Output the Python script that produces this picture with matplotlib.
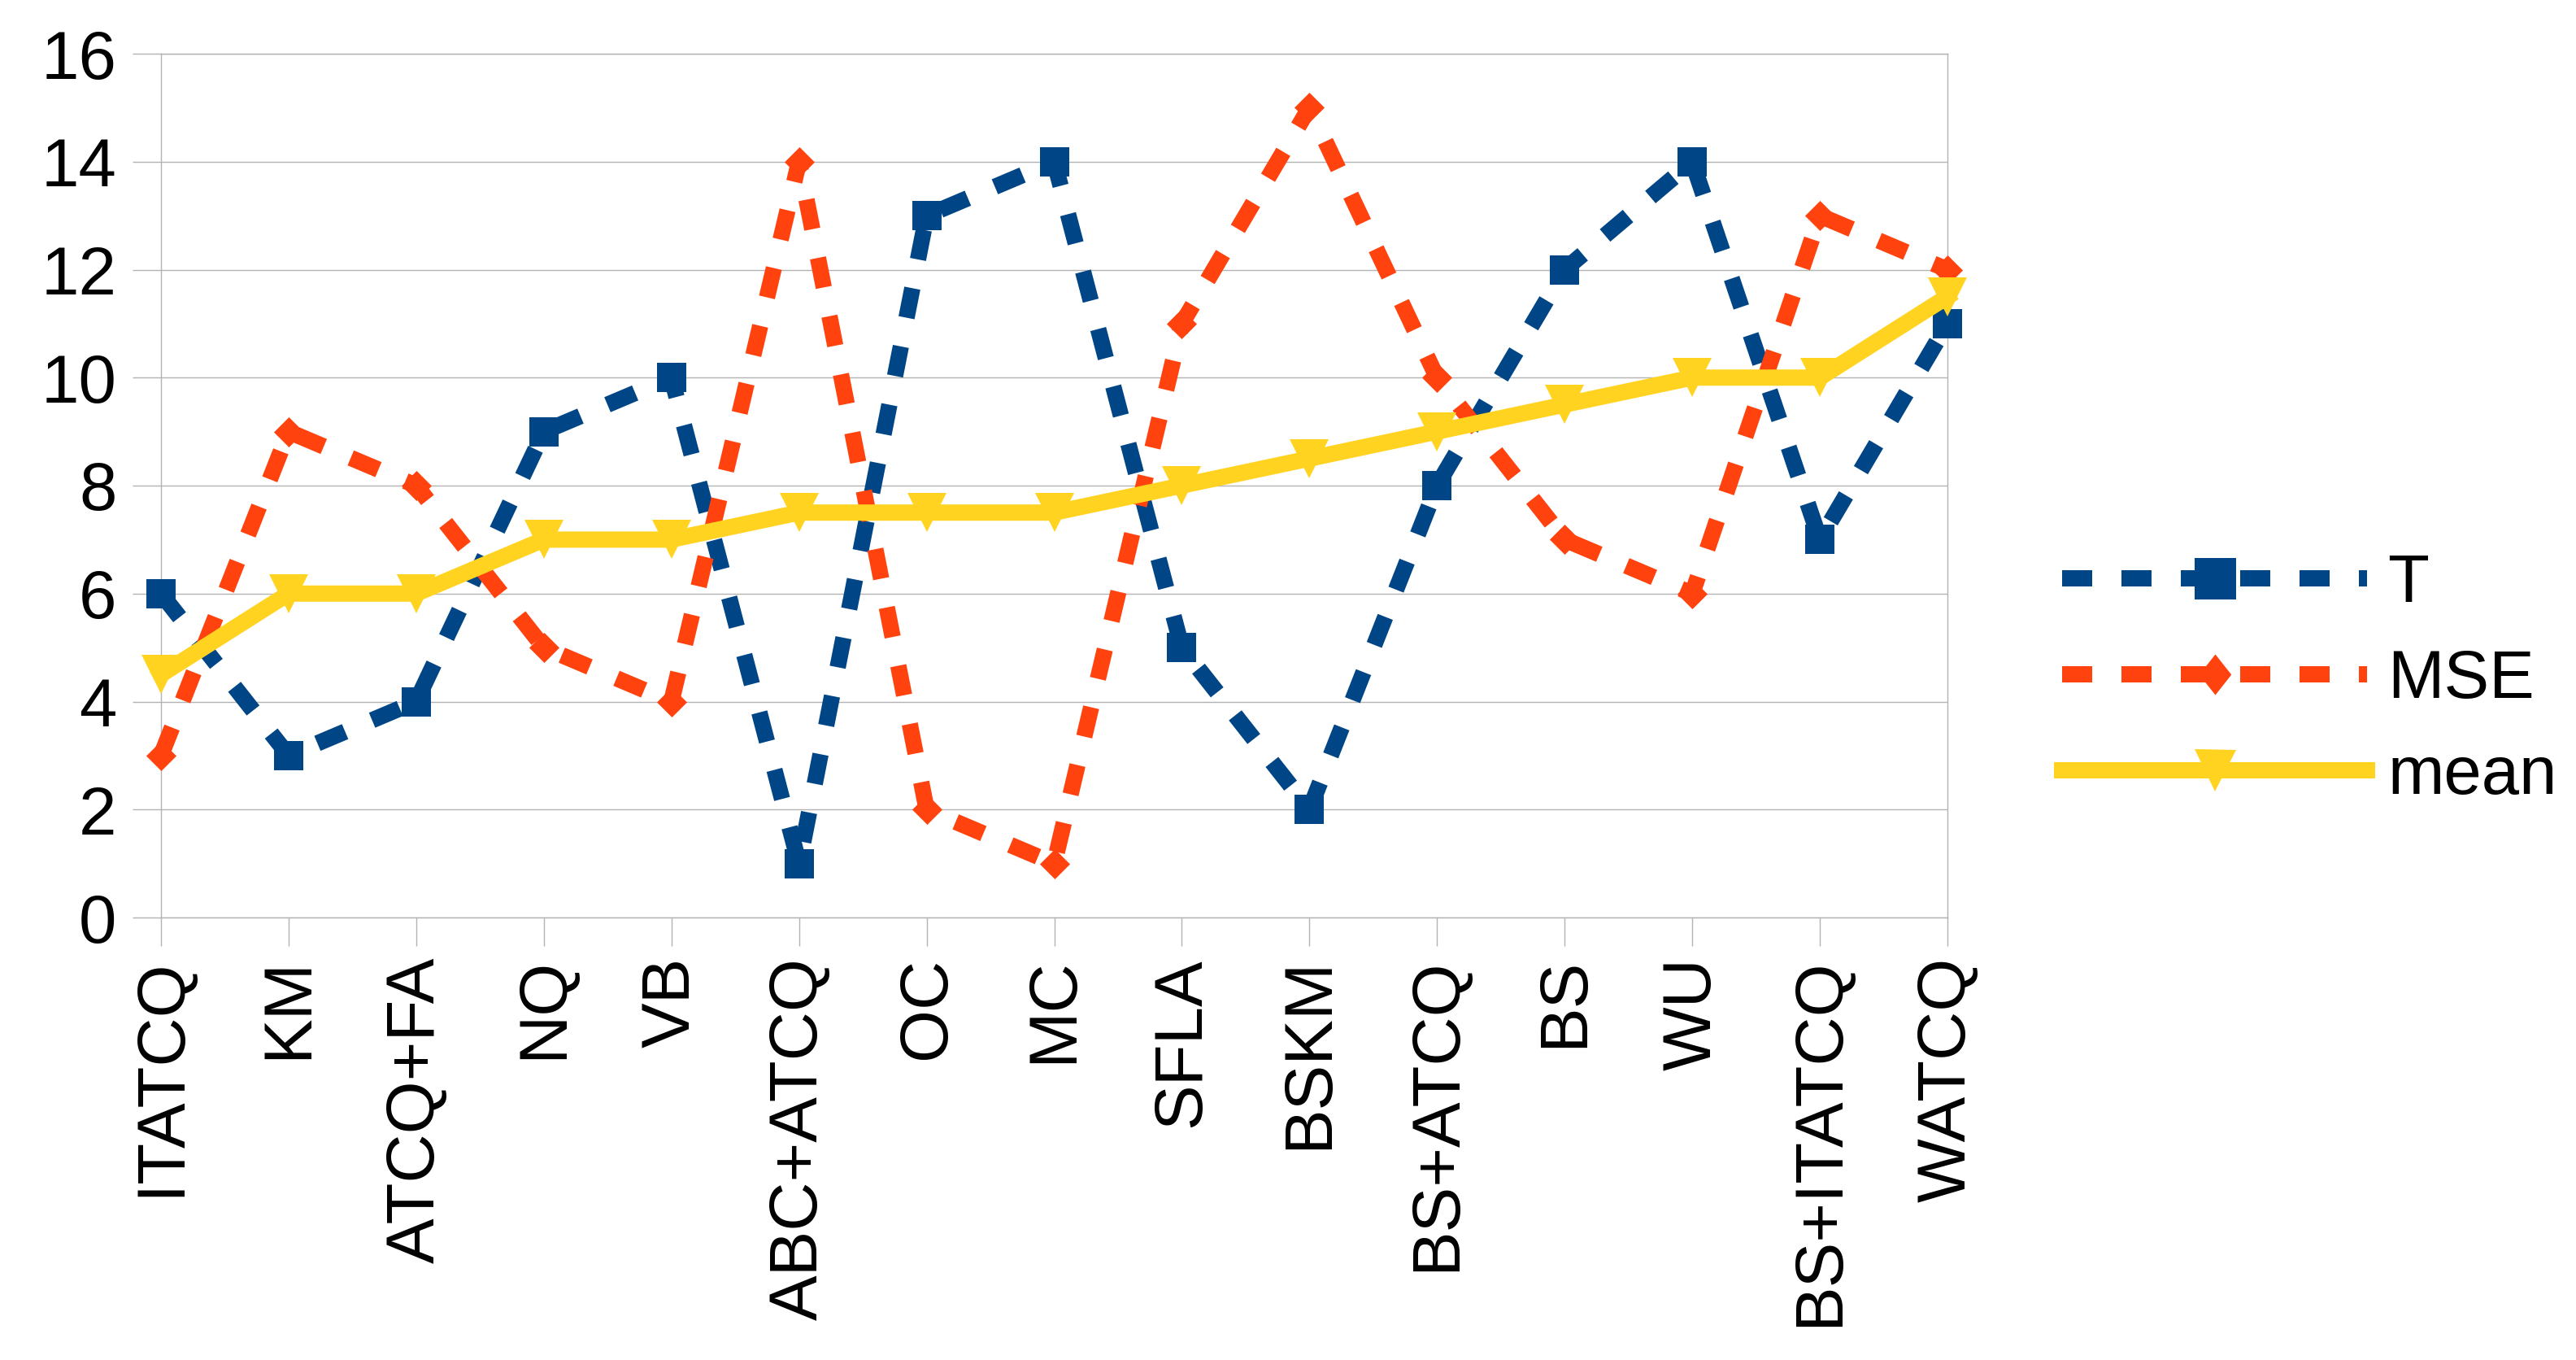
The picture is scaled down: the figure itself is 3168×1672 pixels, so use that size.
import matplotlib
matplotlib.use("Agg")
import matplotlib.pyplot as plt
from matplotlib.lines import Line2D

plt.rcParams['font.family'] = ['Liberation Sans', 'DejaVu Sans']

categories = ["ITATCQ", "KM", "ATCQ+FA", "NQ", "VB", "ABC+ATCQ", "OC", "MC",
              "SFLA", "BSKM", "BS+ATCQ", "BS", "WU", "BS+ITATCQ", "WATCQ"]
T_values = [6, 3, 4, 9, 10, 1, 13, 14, 5, 2, 8, 12, 14, 7, 11]
MSE_values = [3, 9, 8, 5, 4, 14, 2, 1, 11, 15, 10, 7, 6, 13, 12]
mean_values = [4.5, 6, 6, 7, 7, 7.5, 7.5, 7.5, 8, 8.5, 9, 9.5, 10, 10, 11.5]
yticks = [0, 2, 4, 6, 8, 10, 12, 14, 16]

C_T = "#004586"
C_MSE = "#ff420e"
C_MEAN = "#ffd320"
GRID = "#b3b3b3"

DPI = 100
px = 72.0 / DPI  # points per pixel

fig = plt.figure(figsize=(31.68, 16.72), dpi=DPI)
ax = fig.add_axes([198 / 3168, 1 - 1128 / 1672, (2395 - 198) / 3168, (1128 - 66) / 1672])

lw = 20 * px
dash = (0, (1.85, 1.8))
diamond = [(0, 1), (1, 0), (0, -1), (-1, 0)]
x = list(range(len(categories)))

ax.plot(x, T_values, color=C_T, lw=lw, linestyle=dash, marker='s',
        markersize=36 * px, markeredgewidth=0, clip_on=False, zorder=3)
ax.plot(x, MSE_values, color=C_MSE, lw=lw, linestyle=dash, marker=diamond,
        markersize=37 * px, markeredgewidth=0, clip_on=False, zorder=4)
ax.plot(x, mean_values, color=C_MEAN, lw=lw, linestyle='-', marker='v',
        markersize=48 * px, markeredgewidth=0, clip_on=False, zorder=5)

ax.set_xlim(0, 14)
ax.set_ylim(0, 16)
ax.set_xticks(x)
ax.set_xticklabels(categories, rotation=90, fontsize=60)
ax.set_yticks(yticks)
ax.set_yticklabels([str(v) for v in yticks], fontsize=60)
ax.tick_params(axis='both', direction='out', length=35 * px, width=1.4 * px,
               color=GRID)
ax.tick_params(axis='x', pad=10)
ax.tick_params(axis='y', pad=14)
ax.yaxis.grid(True, color=GRID, lw=1.4 * px)
ax.set_axisbelow(True)
for s in ax.spines.values():
    s.set_color(GRID)
    s.set_linewidth(1.4 * px)

handles = [
    Line2D([], [], color=C_T, lw=lw, linestyle=dash, marker='s',
           markersize=51 * px, markeredgewidth=0),
    Line2D([], [], color=C_MSE, lw=lw, linestyle=dash,
           marker=[(0, 1), (0.79, 0), (0, -1), (-0.79, 0)],
           markersize=50 * px, markeredgewidth=0),
    Line2D([], [], color=C_MEAN, lw=lw, linestyle='-', marker='v',
           markersize=51 * px, markeredgewidth=0),
]
leg = fig.legend(handles, ["T", "MSE", "mean"], loc='center left',
                 bbox_to_anchor=(2536 / 3168, 1 - 836 / 1672),
                 frameon=False, fontsize=60, numpoints=1,
                 handlelength=4.5, handletextpad=0.3, labelspacing=0.48,
                 borderpad=0, borderaxespad=0)

fig.savefig("out.png", dpi=DPI)
